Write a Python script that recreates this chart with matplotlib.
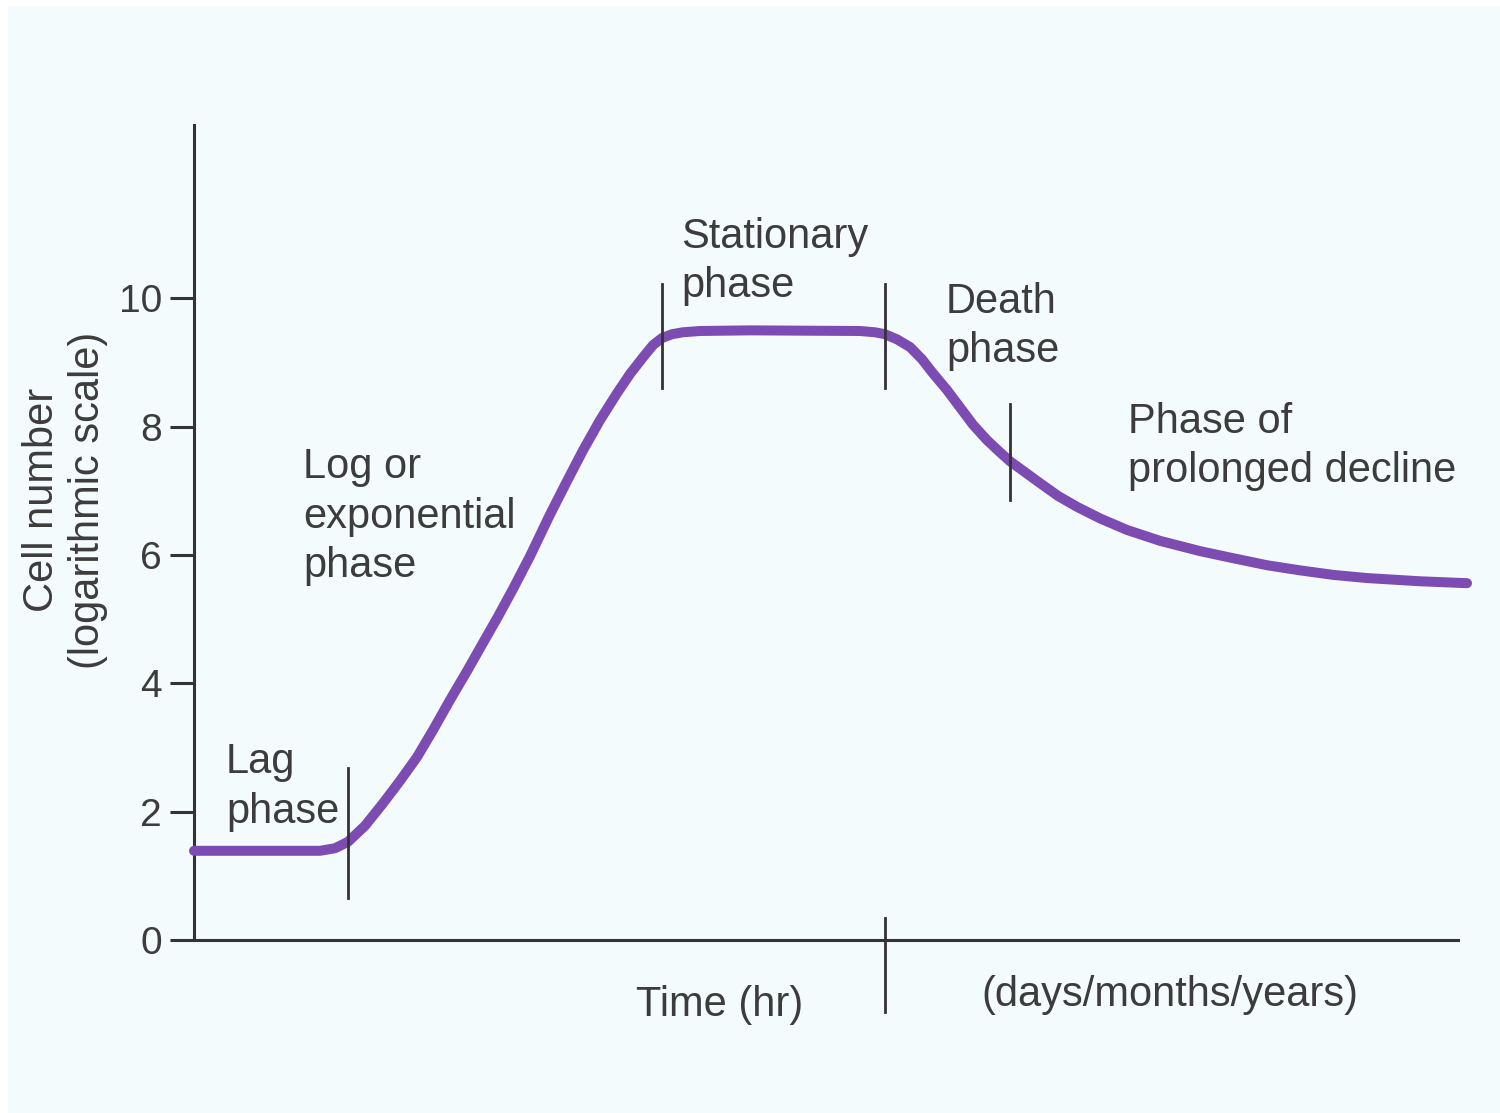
import matplotlib.pyplot as plt
from matplotlib.patches import Rectangle

plt.rcParams["font.family"] = ["Liberation Sans", "DejaVu Sans"]

# growth curve (time in arbitrary units, log cell number)
time_pts = [0, 12.6, 14.1, 15.4, 17.1, 18.9, 20.6, 22.3, 23.9, 25.6, 27.3, 28.9,
            30.4, 31.9, 33.6, 35.6, 37.3, 38.9, 40.6, 42.3, 43.6, 44.9, 45.9,
            46.8, 47.8, 48.9, 50.6, 55.6, 66.6, 68.1, 69.1, 70.3, 71.6, 72.8,
            73.9, 75.3, 76.6, 77.9, 79.3, 80.6, 81.6, 83.1, 84.6, 86.4, 88.3,
            90.6, 93.3, 96.6, 100.6, 103.9, 107.3, 110.6, 113.9, 117.3, 122.6, 127.3]
log_cells = [1.39, 1.39, 1.43, 1.53, 1.78, 2.13, 2.48, 2.85, 3.27, 3.74, 4.19, 4.63,
             5.04, 5.47, 5.98, 6.63, 7.15, 7.63, 8.10, 8.52, 8.82, 9.08, 9.27,
             9.38, 9.44, 9.47, 9.49, 9.50, 9.49, 9.47, 9.44, 9.36, 9.24, 9.05,
             8.83, 8.57, 8.30, 8.03, 7.79, 7.60, 7.46, 7.29, 7.12, 6.92, 6.75,
             6.57, 6.39, 6.22, 6.06, 5.95, 5.84, 5.76, 5.69, 5.64, 5.59, 5.56]

# phase boundary marks: x position, y from, y to
marks_x = [15.4, 46.8, 69.1, 81.6, 69.1]
marks_lo = [0.65, 8.60, 8.60, 6.85, -1.12]
marks_hi = [2.68, 10.23, 10.23, 8.35, 0.34]

yticks = [0, 2, 4, 6, 8, 10]

labels = ["Lag\nphase", "Log or\nexponential\nphase", "Stationary\nphase",
          "Death\nphase", "Phase of\nprolonged decline"]
label_x = [3.2, 10.9, 48.7, 75.2, 93.4]
label_y = [3.08, 7.68, 11.27, 10.26, 8.39]

ink = "#333333"
txt = "#3c3c3c"
purple = "#7d4cb3"

fig = plt.figure(figsize=(15, 11.13), dpi=100, facecolor="white")
fig.patches.append(Rectangle((8 / 1500, 0), 1, 1 - 6 / 1113, transform=fig.transFigure,
                             facecolor="#f4fbfd", edgecolor="none", zorder=-10))

ax = fig.add_axes([194 / 1500, (1113 - 940) / 1113, (1470 - 194) / 1500, (940 - 125) / 1113])
ax.set_facecolor("none")
ax.set_xlim(0, 127.6)
ax.set_ylim(0, 12.7)

ax.plot(time_pts, log_cells, color=purple, lw=7.2, solid_capstyle="round",
        solid_joinstyle="round", zorder=3, clip_on=False)
for x, lo, hi in zip(marks_x, marks_lo, marks_hi):
    ax.plot([x, x], [lo, hi], color=ink, lw=2.0, zorder=4, clip_on=False)

for s in ["top", "right"]:
    ax.spines[s].set_visible(False)
for s in ["left", "bottom"]:
    ax.spines[s].set_color(ink)
    ax.spines[s].set_linewidth(2.2)
ax.spines["bottom"].set_bounds(0, 126.4)

ax.set_xticks([])
ax.set_yticks(yticks)
ax.tick_params(axis="y", direction="out", length=17, width=2.2, color=ink,
               labelsize=28, labelcolor=txt, pad=6)

for s, x, y in zip(labels, label_x, label_y):
    ax.text(x, y, s, ha="left", va="top", fontsize=30, color=txt, linespacing=1.31)

ax.text(52.6, -0.7, "Time (hr)", ha="center", va="top", fontsize=30, color=txt,
        clip_on=False)
ax.text(97.6, -0.55, "(days/months/years)", ha="center", va="top", fontsize=30,
        color=txt, clip_on=False)

fig.text(65 / 1500, 1 - 500 / 1113, "Cell number\n(logarithmic scale)", rotation=90,
         ha="center", va="center", fontsize=30, color=txt, linespacing=1.2)

fig.savefig("out.png", dpi=100, facecolor="white")
